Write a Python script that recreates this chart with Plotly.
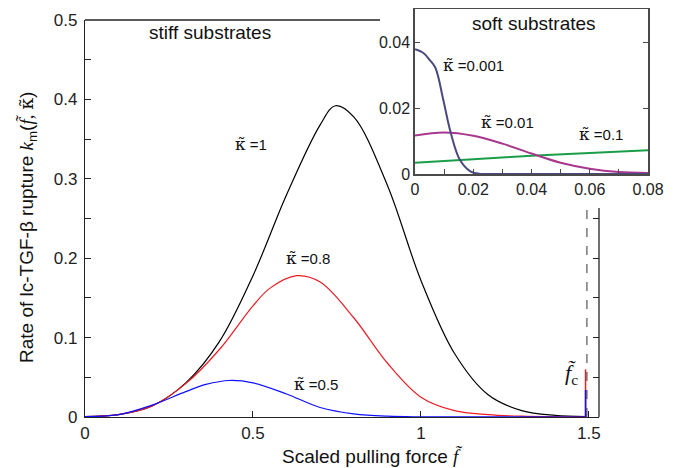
import plotly.graph_objects as go

# stiff substrates (main panel)
f_k1 = [0, 0.1, 0.2, 0.3, 0.4, 0.5, 0.6, 0.7, 0.745, 0.8, 0.9, 1.0, 1.1, 1.2, 1.3, 1.4, 1.49]
k_1 = [0.0005, 0.003, 0.014, 0.043, 0.095, 0.178, 0.28, 0.368, 0.392, 0.378, 0.292, 0.172, 0.08, 0.028, 0.008, 0.002, 0.0005]

f_k08 = [0, 0.1, 0.2, 0.3, 0.4, 0.5, 0.55, 0.63, 0.7, 0.8, 0.9, 1.0, 1.1, 1.2, 1.3, 1.49]
k_08 = [0.0005, 0.003, 0.014, 0.042, 0.085, 0.14, 0.162, 0.178, 0.17, 0.125, 0.068, 0.025, 0.008, 0.003, 0.001, 0]

f_k05 = [0, 0.1, 0.2, 0.3, 0.36, 0.43, 0.5, 0.6, 0.7, 0.8, 0.9, 1.0, 1.49]
k_05 = [0.0005, 0.003, 0.015, 0.032, 0.041, 0.046, 0.043, 0.029, 0.012, 0.004, 0.001, 0.0002, 0]

# critical force and the jumps at f_c
f_c = 1.494
spike_08 = [0, 0.06]
spike_05 = [0, 0.034]
fc_line = [0, 0.262]

# soft substrates (inset)
f_k0001 = [0, 0.003, 0.005, 0.007, 0.0097, 0.0123, 0.0154, 0.019, 0.022, 0.03, 0.08]
k_0001 = [0.0378, 0.0366, 0.0346, 0.0322, 0.0225, 0.0124, 0.0043, 0.0008, 0.0001, 0, 0]

f_k001 = [0, 0.01, 0.02, 0.03, 0.04, 0.05, 0.06, 0.07, 0.08]
k_001 = [0.0117, 0.0126, 0.0116, 0.0092, 0.0062, 0.0034, 0.0016, 0.0006, 0.0003]

f_k01 = [0, 0.02, 0.04, 0.06, 0.08]
k_01 = [0.0034, 0.0045, 0.0055, 0.0064, 0.0072]

main_xticks = [0, 0.5, 1, 1.5]
right_yticks = [0.05, 0.1, 0.15, 0.2, 0.25]
inset_xticks = [0, 0.02, 0.04, 0.06, 0.08]
inset_yticks = [0, 0.02, 0.04]

# page has an 8px body margin, so the figure is 8px smaller and shifted
OFF = 8
W, H = 676 - OFF, 468 - OFF
L, R, T, B = 85 - OFF, 28, 9 - OFF, 51
PW, PH = W - L - R, H - T - B


def px(x):
    # page pixel -> paper fraction
    return (x - OFF - L) / PW


def py(y):
    return (H - B - (y - OFF)) / PH


SANS = 'Liberation Sans'
SERIF = 'Liberation Serif'
AX = '#222222'
INSET_AX = '#4a4a4a'
KAP = '<span style="font-family:DejaVu Serif;font-size:17px">κ\u0303</span>'

fig = go.Figure()

fig.add_trace(go.Scatter(x=f_k1, y=k_1, mode='lines', line=dict(color='black', width=1.2, shape='spline')))
fig.add_trace(go.Scatter(x=f_k08, y=k_08, mode='lines', line=dict(color='#ee1c25', width=1.2, shape='spline')))
fig.add_trace(go.Scatter(x=f_k05, y=k_05, mode='lines', line=dict(color='#1010ff', width=1.2, shape='spline')))
fig.add_trace(go.Scatter(x=[f_c, f_c], y=fc_line, mode='lines', line=dict(color='#555555', width=1.2, dash='dash')))
fig.add_trace(go.Scatter(x=[f_c - 0.004, f_c - 0.004], y=spike_08, mode='lines', line=dict(color='#ee1c25', width=1.5)))
fig.add_trace(go.Scatter(x=[f_c - 0.004, f_c - 0.004], y=spike_05, mode='lines', line=dict(color='#1010ff', width=1.5)))
# dummy trace for the right-hand tick axis
fig.add_trace(go.Scatter(x=[], y=[], yaxis='y3', showlegend=False))

fig.add_trace(go.Scatter(x=f_k01, y=k_01, xaxis='x2', yaxis='y2', mode='lines',
                         line=dict(color='#1a9e4a', width=2, shape='spline')))
fig.add_trace(go.Scatter(x=f_k001, y=k_001, xaxis='x2', yaxis='y2', mode='lines',
                         line=dict(color='#a8378f', width=2, shape='spline')))
fig.add_trace(go.Scatter(x=f_k0001, y=k_0001, xaxis='x2', yaxis='y2', mode='lines',
                         line=dict(color='#4a4a80', width=2, shape='spline')))

main_x_dom = [0, px(599)]
main_y_dom = [0, py(20)]

fig.update_layout(
    template='none',
    width=W, height=H,
    margin=dict(l=L, r=R, t=T, b=B),
    paper_bgcolor='white', plot_bgcolor='rgba(0,0,0,0)',
    showlegend=False,
    font=dict(family=SANS, size=17, color='#222222'),
    xaxis=dict(domain=main_x_dom, range=[0, 1.53], tickvals=main_xticks, automargin=False,
               showline=True, linecolor=AX, linewidth=1.3, ticks='inside', ticklen=6,
               tickcolor=AX, showgrid=False, zeroline=False, anchor='y'),
    yaxis=dict(domain=main_y_dom, range=[0, 0.5], dtick=0.1, tickformat='.1~f', automargin=False,
               showline=True, linecolor=AX, linewidth=1.3, ticks='inside', ticklen=6,
               tickcolor=AX, showgrid=False, zeroline=False, anchor='x', ticklabelstandoff=3,
               minor=dict(dtick=0.05, ticks='inside', ticklen=6, tickcolor=AX, showgrid=False)),
    yaxis3=dict(overlaying='y', side='right', anchor='x', range=[0, 0.5], tickvals=right_yticks,
                showticklabels=False, ticks='inside', ticklen=6, tickcolor=AX, automargin=False,
                showline=False, showgrid=False, zeroline=False),
    xaxis2=dict(domain=[px(415), 1], range=[0, 0.08], tickvals=inset_xticks, anchor='y2',
                showline=True, mirror=True, linecolor=INSET_AX, linewidth=1.5, automargin=False,
                ticks='inside', ticklen=5, tickcolor=INSET_AX, tickfont=dict(size=16),
                showgrid=False, zeroline=False,
                minor=dict(dtick=0.01, ticks='inside', ticklen=5, tickcolor=INSET_AX, showgrid=False)),
    yaxis2=dict(domain=[py(174), 1], range=[0, 0.05], tickvals=inset_yticks, anchor='x2',
                showline=True, mirror='ticks', linecolor=INSET_AX, linewidth=1.5, automargin=False,
                ticks='inside', ticklen=5, tickcolor=INSET_AX, tickfont=dict(size=16),
                showgrid=False, zeroline=False),
)

# partial frame of the main panel (hidden behind the inset)
fig.add_shape(type='line', xref='paper', yref='paper', x0=0, x1=px(380), y0=main_y_dom[1], y1=main_y_dom[1],
              line=dict(color=AX, width=1.3))
fig.add_shape(type='line', xref='paper', yref='paper', x0=main_x_dom[1], x1=main_x_dom[1], y0=0, y1=py(208),
              line=dict(color=AX, width=1.3))


def label(text, x, y, size=15, family=SANS, angle=0):
    fig.add_annotation(text=text, x=px(x), y=py(y), xref='paper', yref='paper',
                       showarrow=False, xanchor='center', yanchor='middle',
                       textangle=angle, font=dict(family=family, size=size, color='#111111'))


label('stiff substrates', 210, 32, size=19)
label('soft substrates', 534, 24, size=19)
label(KAP + ' =1', 251, 144)
label(KAP + ' =0.8', 308, 258)
label(KAP + ' =0.5', 316, 384)
label(KAP + ' =0.001', 473, 65)
label(KAP + ' =0.01', 507, 122)
label(KAP + ' =0.1', 601, 134)
label('<i>f\u0303</i><sub>c</sub>', 571, 374, size=22, family=SERIF)
label('Scaled pulling force <span style="font-family:Liberation Serif"><i>f\u0303</i></span>', 372, 456, size=19)
label('Rate of lc-TGF-β rupture <span style="font-family:Liberation Serif"><i>k</i></span><sub>m</sub>'
      '(<span style="font-family:Liberation Serif"><i>f\u0303</i>, </span>'
      '<span style="font-family:DejaVu Serif">κ\u0303</span>)', 27, 228, size=19, angle=-90)

fig.write_html("out.html")
